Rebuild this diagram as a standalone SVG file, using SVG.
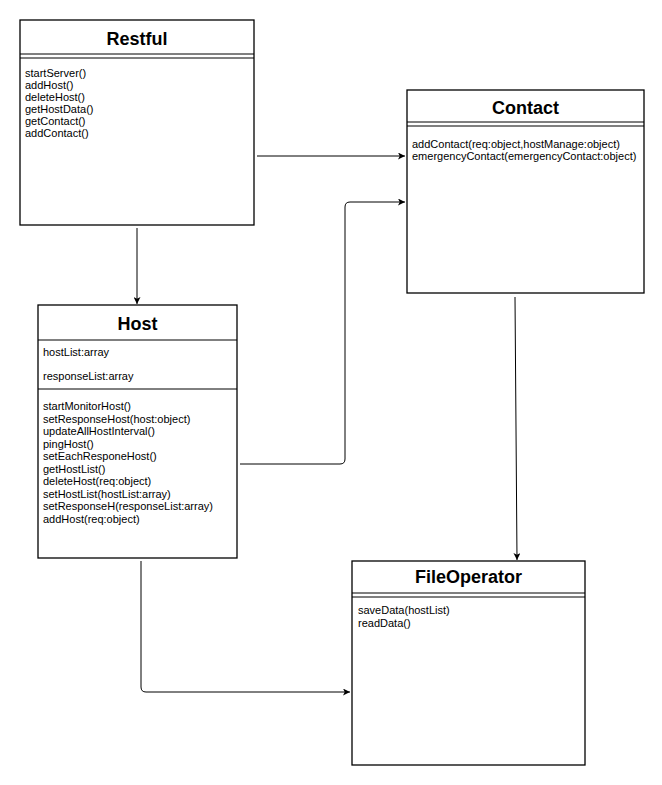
<svg xmlns="http://www.w3.org/2000/svg" width="662" height="785" viewBox="0 0 662 785">
  <style>
    .box { fill: #ffffff; stroke: #000000; stroke-width: 1.3; }
    .sep { stroke: #000000; stroke-width: 1; fill: none; }
    .title { font-family: "Liberation Sans", Arial, sans-serif; font-size: 18px; font-weight: bold; fill: #000000; text-anchor: middle; }
    .member { font-family: "Liberation Sans", Arial, sans-serif; font-size: 11px; fill: #000000; }
    .edge { fill: none; stroke: #000000; stroke-width: 1; }
  </style>
  <defs>
    <marker id="arrow" viewBox="0 0 10 10" refX="10" refY="5" markerWidth="7" markerHeight="7" orient="auto" markerUnits="userSpaceOnUse">
      <path d="M0,0 L10,5 L0,10 L2.5,5 Z" fill="#000000"/>
    </marker>
  </defs>
  <rect width="662" height="785" fill="#ffffff"/>

  <g id="connectors">
    <path class="edge" d="M257,156 L405,156" marker-end="url(#arrow)"/>
    <path class="edge" d="M137,228 L137,304" marker-end="url(#arrow)"/>
    <path class="edge" d="M240,464 L340,464 Q345,464 345,459 L345,207 Q345,202 350,202 L405,202" marker-end="url(#arrow)"/>
    <path class="edge" d="M515,297 L517,560" marker-end="url(#arrow)"/>
    <path class="edge" d="M141,561 L141,687 Q141,692 146,692 L350,692" marker-end="url(#arrow)"/>
  </g>

  <g id="restful">
    <rect class="box" x="20" y="20" width="234" height="205"/>
    <line class="sep" x1="20" y1="54" x2="254" y2="54"/>
    <line class="sep" x1="20" y1="58" x2="254" y2="58"/>
    <text class="title" x="137" y="45">Restful</text>
    <text class="member" x="25" y="77">startServer()</text>
    <text class="member" x="25" y="89">addHost()</text>
    <text class="member" x="25" y="101">deleteHost()</text>
    <text class="member" x="25" y="113">getHostData()</text>
    <text class="member" x="25" y="125">getContact()</text>
    <text class="member" x="25" y="137">addContact()</text>
  </g>

  <g id="contact">
    <rect class="box" x="407" y="90" width="237" height="203"/>
    <line class="sep" x1="407" y1="122" x2="644" y2="122"/>
    <line class="sep" x1="407" y1="126" x2="644" y2="126"/>
    <text class="title" x="525.5" y="114">Contact</text>
    <text class="member" x="412" y="148">addContact(req:object,hostManage:object)</text>
    <text class="member" x="412" y="160">emergencyContact(emergencyContact:object)</text>
  </g>

  <g id="host">
    <rect class="box" x="38" y="305" width="199" height="253"/>
    <line class="sep" x1="38" y1="340" x2="237" y2="340"/>
    <line class="sep" x1="38" y1="389" x2="237" y2="389"/>
    <text class="title" x="137.5" y="330">Host</text>
    <text class="member" x="43" y="356">hostList:array</text>
    <text class="member" x="43" y="380">responseList:array</text>
    <text class="member" x="43" y="410">startMonitorHost()</text>
    <text class="member" x="43" y="422.5">setResponseHost(host:object)</text>
    <text class="member" x="43" y="435">updateAllHostInterval()</text>
    <text class="member" x="43" y="447.5">pingHost()</text>
    <text class="member" x="43" y="460">setEachResponeHost()</text>
    <text class="member" x="43" y="472.5">getHostList()</text>
    <text class="member" x="43" y="485">deleteHost(req:object)</text>
    <text class="member" x="43" y="497.5">setHostList(hostList:array)</text>
    <text class="member" x="43" y="510">setResponseH(responseList:array)</text>
    <text class="member" x="43" y="522.5">addHost(req:object)</text>
  </g>

  <g id="fileoperator">
    <rect class="box" x="352" y="561" width="233" height="204"/>
    <line class="sep" x1="352" y1="593" x2="585" y2="593"/>
    <line class="sep" x1="352" y1="597" x2="585" y2="597"/>
    <text class="title" x="468.5" y="583">FileOperator</text>
    <text class="member" x="358" y="614">saveData(hostList)</text>
    <text class="member" x="358" y="627">readData()</text>
  </g>
</svg>
